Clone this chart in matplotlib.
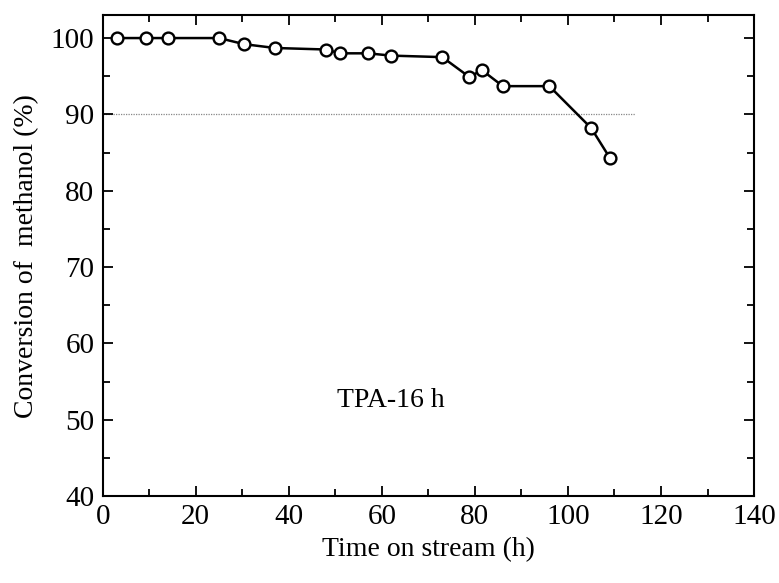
import matplotlib
matplotlib.use("Agg")
import matplotlib.pyplot as plt
from matplotlib.ticker import MultipleLocator

time_h = [3, 9.4, 14, 25, 30.4, 37, 48, 51, 57, 62, 73, 78.8, 81.5, 86, 96, 105, 109]
conversion = [100, 100, 100, 100, 99.2, 98.7, 98.5, 98.0, 98.0, 97.7, 97.5, 94.9, 95.8, 93.7, 93.7, 88.2, 84.3]
ref_line_y = 90
ref_line_x = [0, 114.4]
label_text = "TPA-16 h"

plt.rcParams['font.family'] = ['Liberation Serif', 'DejaVu Serif']
fig = plt.figure(figsize=(7.79, 5.83), dpi=100)
ax = fig.add_axes([0.1318, 0.1492, 0.968 - 0.1318, 0.974 - 0.1492])

ax.plot(ref_line_x, [ref_line_y, ref_line_y], color='#888888', lw=0.9, ls=(0, (1, 1)), zorder=1)
ax.plot(time_h, conversion, color='black', lw=1.8, marker='o', markersize=8.5,
        markerfacecolor='white', markeredgecolor='black', markeredgewidth=1.7, zorder=3)

ax.set_xlim(0, 140)
ax.set_ylim(40, 103)
ax.xaxis.set_major_locator(MultipleLocator(20))
ax.xaxis.set_minor_locator(MultipleLocator(10))
ax.yaxis.set_major_locator(MultipleLocator(10))
ax.yaxis.set_minor_locator(MultipleLocator(5))
ax.tick_params(which='both', direction='in', top=True, right=True, width=1.3, labelsize=21)
ax.tick_params(which='major', length=7.5, pad=6)
ax.tick_params(which='minor', length=5)
for s in ax.spines.values():
    s.set_linewidth(1.5)

ax.set_xlabel("Time on stream (h)", fontsize=20, labelpad=5)
ax.set_ylabel("Conversion of  methanol (%)", fontsize=20, labelpad=8)
ax.text(62, 51.6, label_text, fontsize=20, ha='center', va='baseline')

fig.savefig("out.png", dpi=100)
